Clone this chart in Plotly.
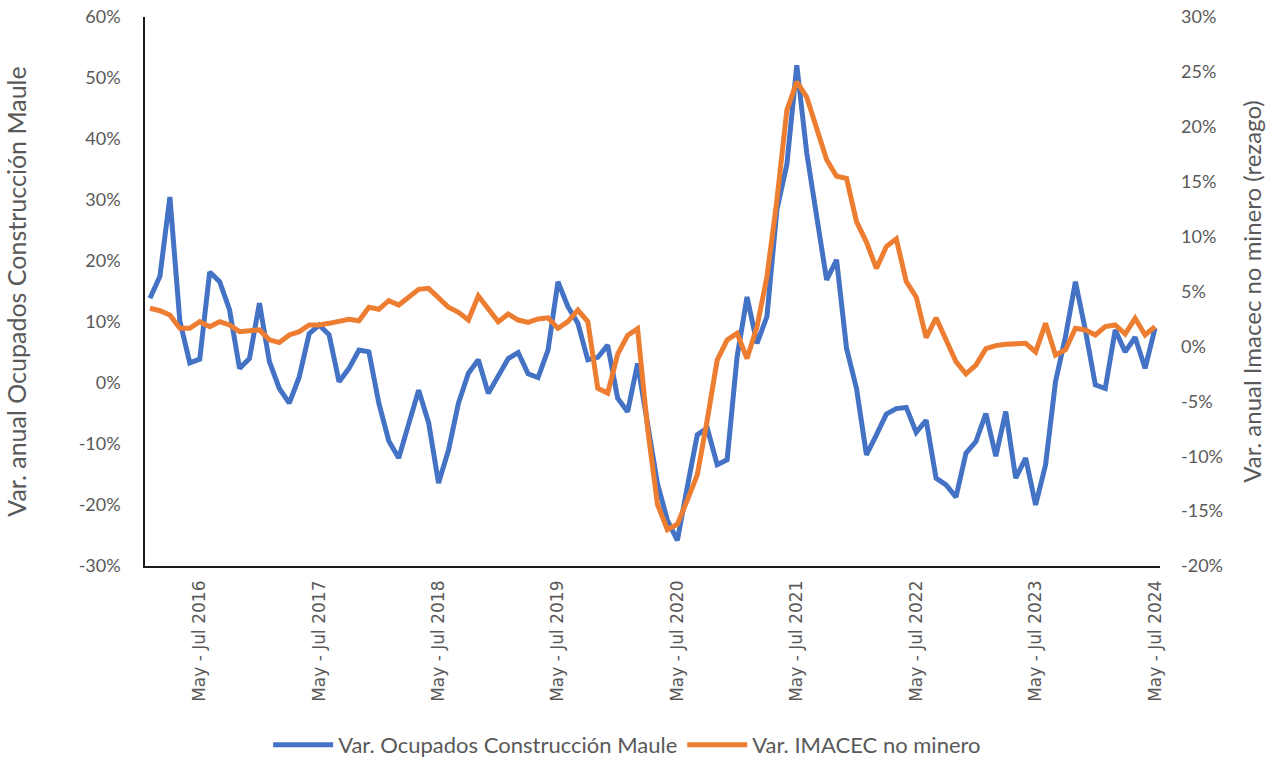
import plotly.graph_objects as go

months = ["Ene", "Feb", "Mar", "Abr", "May", "Jun", "Jul", "Ago", "Sep", "Oct", "Nov", "Dic"]

# rolling quarters from Dic-Feb 2016 to May-Jul 2024
categories = []
start_month, start_year = 11, 2015  # Dic 2015 (0-based month index)
for k in range(102):
    m0 = (start_month + k) % 12
    y0 = start_year + (start_month + k) // 12
    m2 = (m0 + 2) % 12
    y2 = y0 + (m0 + 2) // 12
    categories.append(f"{months[m0]} - {months[m2]} {y2}")

ocupados = [13.9, 17.5, 30.5, 10.2, 3.3, 3.9, 18.2, 16.6, 12.0, 2.4,
            4.0, 13.1, 3.5, -0.9, -3.3, 1.0, 8.1, 9.5, 7.9, 0.2,
            2.4, 5.4, 5.1, -3.3, -9.5, -12.3, -6.7, -1.2, -6.5, -16.4,
            -11.0, -3.3, 1.6, 3.8, -1.7, 1.3, 4.0, 5.0, 1.5, 0.9,
            5.4, 16.6, 12.5, 9.8, 3.8, 4.2, 6.2, -2.5, -4.7, 3.2,
            -7.0, -16.5, -22.5, -25.8, -17.0, -8.5, -7.4, -13.4, -12.6, 4.3,
            14.1, 6.5, 10.9, 28.4, 35.8, 52.1, 37.7, 27.3, 16.9, 20.2,
            5.7, -0.9, -11.8, -8.5, -5.1, -4.2, -4.0, -8.1, -6.1, -15.6,
            -16.7, -18.7, -11.5, -9.6, -5.0, -12.0, -4.7, -15.6, -12.3, -20.0,
            -13.4, 0.2, 7.6, 16.6, 8.7, -0.3, -0.9, 8.7, 5.1, 7.5,
            2.4, 9.0]

imacec = [3.47, 3.25, 2.86, 1.65, 1.65, 2.25, 1.8, 2.25, 1.95, 1.34,
          1.43, 1.5, 0.6, 0.35, 1.04, 1.34, 1.95, 1.95, 2.1, 2.25,
          2.47, 2.34, 3.56, 3.38, 4.16, 3.77, 4.53, 5.2, 5.29, 4.44,
          3.56, 3.1, 2.4, 4.6, 3.4, 2.25, 2.95, 2.4, 2.19, 2.5,
          2.6, 1.65, 2.25, 3.3, 2.25, -3.82, -4.25, -0.7, 1.0, 1.62,
          -7.4, -14.4, -16.7, -16.2, -14.0, -11.7, -6.7, -1.24, 0.58, 1.19,
          -1.1, 1.8, 6.35, 13.3, 21.5, 24.1, 22.7, 19.86, 17.0, 15.5,
          15.3, 11.36, 9.5, 7.1, 9.1, 9.8, 5.9, 4.5, 0.8, 2.6,
          0.6, -1.4, -2.5, -1.7, -0.2, 0.07, 0.2, 0.22, 0.28, -0.5,
          2.1, -0.8, -0.3, 1.65, 1.5, 1.04, 1.8, 1.95, 1.13, 2.56,
          1.04, 1.8]

x_tick_labels = [c for c in categories if c.startswith("May - Jul")]
y1_ticks = [-30, -20, -10, 0, 10, 20, 30, 40, 50, 60]
y1_tick_text = ["-30%", "-20%", "-10%", "0%", "10%", "20%", "30%", "40%", "50%", "60%"]
y2_ticks = [-20, -15, -10, -5, 0, 5, 10, 15, 20, 25, 30]
y2_tick_text = ["-20%", "-15%", "-10%", "-5%", "0%", "5%", "10%", "15%", "20%", "25%", "30%"]

grey = "#595959"
font_family = "Lato, 'Open Sans', sans-serif"

fig = go.Figure()
fig.add_trace(go.Scatter(
    x=categories, y=ocupados, mode="lines", name="Var. Ocupados Construcción Maule",
    line=dict(color="#4472C4", width=5), yaxis="y"))
fig.add_trace(go.Scatter(
    x=categories, y=imacec, mode="lines", name="Var. IMACEC no minero",
    line=dict(color="#ED7D31", width=5), yaxis="y2"))

fig.update_layout(
    width=1279, height=757,
    margin=dict(l=145, r=119, t=17, b=191, autoexpand=False),
    paper_bgcolor="white", plot_bgcolor="white",
    font=dict(family=font_family, color=grey),
    showlegend=True,
    legend=dict(orientation="h", x=0.475, xanchor="center", y=-0.326, yanchor="middle",
                font=dict(size=22, color=grey), itemwidth=60,
                traceorder="normal"),
    xaxis=dict(type="category", range=[-0.5, len(categories) - 0.5], automargin=False,
               tickmode="array", tickvals=x_tick_labels, ticktext=x_tick_labels,
               tickangle=-90, tickfont=dict(size=17, color=grey, family="'DejaVu Sans', sans-serif"),
               showline=True, linecolor="#1a1a1a", linewidth=1.5, ticks="",
               showgrid=False, zeroline=False, ticklabelstandoff=6),
    yaxis=dict(range=[-30, 60], tickmode="array", tickvals=y1_ticks, ticktext=y1_tick_text,
               showgrid=False, zeroline=False, automargin=False,
               showline=True, linecolor="#1a1a1a", linewidth=1.5, ticks="",
               tickfont=dict(size=18, color=grey), ticklabelstandoff=19,
               title=dict(text="Var. anual Ocupados Construcción Maule",
                          font=dict(size=25, color=grey), standoff=45)),
    yaxis2=dict(range=[-20, 30], tickmode="array", tickvals=y2_ticks, ticktext=y2_tick_text,
                overlaying="y", side="right", automargin=False,
                showgrid=False, zeroline=False, showline=False, ticks="",
                tickfont=dict(size=18, color=grey), ticklabelstandoff=20,
                title=dict(text="Var. anual Imacec no minero (rezago)",
                           font=dict(size=24, color=grey), standoff=22)),
)

fig.write_html("out.html", config={"displayModeBar": False},
               post_script="document.body.style.margin='0';document.body.style.overflow='hidden';")
